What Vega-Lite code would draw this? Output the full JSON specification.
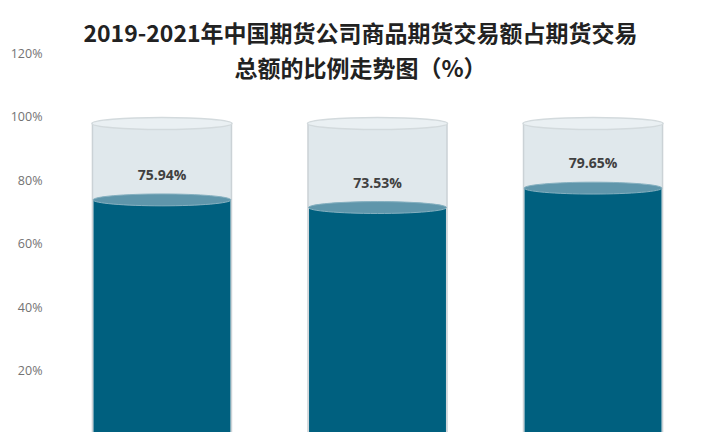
{
  "$schema": "https://vega.github.io/schema/vega-lite/v6.json",
  "autosize": "none",
  "width": 655,
  "height": 379,
  "padding": {"left": 50, "top": 53, "right": 15, "bottom": 0},
  "background": "#ffffff",
  "config": {"view": {"stroke": null}},
  "title": {
    "text": ["2019-2021年中国期货公司商品期货交易额占期货交易", "总额的比例走势图（%）"],
    "font": "Noto Sans CJK SC",
    "fontWeight": "bold",
    "fontSize": 23,
    "color": "#222222",
    "lineHeight": 35,
    "anchor": "middle",
    "dx": -17,
    "dy": 39
  },
  "data": {
    "values": [
      {"year": "2019", "ratio": 75.94, "label": "75.94%", "full": 100},
      {"year": "2020", "ratio": 73.53, "label": "73.53%", "full": 100},
      {"year": "2021", "ratio": 79.65, "label": "79.65%", "full": 100}
    ]
  },
  "encoding": {
    "x": {
      "field": "year",
      "type": "nominal",
      "axis": null,
      "scale": {"paddingInner": 0.355, "paddingOuter": 0.197}
    }
  },
  "layer": [
    {
      "mark": {"type": "bar", "fill": "#e0e8ec", "stroke": "#cbd2d6", "strokeWidth": 1.5, "yOffset": 7, "clip": true},
      "encoding": {
        "y": {
          "field": "full",
          "type": "quantitative",
          "scale": {"domain": [0.63, 120], "nice": false, "zero": false},
          "axis": {
            "values": [20, 40, 60, 80, 100, 120],
            "labelExpr": "datum.value + '%'",
            "domain": false,
            "ticks": false,
            "grid": false,
            "title": null,
            "labelFont": "Open Sans",
            "labelFontSize": 12.5,
            "labelColor": "#737373",
            "labelPadding": 8
          }
        },
        "y2": {"datum": 0}
      }
    },
    {
      "mark": {
        "type": "point",
        "shape": "M-1,0 A1,0.086,0,1,1,1,0 A1,0.086,0,1,1,-1,0 Z",
        "size": 19600,
        "filled": true,
        "fill": "#eaf0f3",
        "stroke": "#d3dadd",
        "strokeWidth": 1.5,
        "opacity": 1,
        "yOffset": 7
      },
      "encoding": {"y": {"field": "full", "type": "quantitative"}}
    },
    {
      "mark": {"type": "bar", "fill": "#00607f", "width": {"band": 0.985}, "yOffset": 7, "clip": true},
      "encoding": {
        "y": {"field": "ratio", "type": "quantitative"},
        "y2": {"datum": 0}
      }
    },
    {
      "mark": {
        "type": "point",
        "shape": "M-1,0 A1,0.086,0,1,1,1,0 A1,0.086,0,1,1,-1,0 Z",
        "size": 19000,
        "filled": true,
        "fill": "#5f96ab",
        "stroke": "#85b0c0",
        "strokeWidth": 1,
        "opacity": 1,
        "yOffset": 7
      },
      "encoding": {"y": {"field": "ratio", "type": "quantitative"}}
    },
    {
      "mark": {
        "type": "text",
        "dy": -17,
        "font": "Open Sans",
        "fontWeight": "bold",
        "fontSize": 14,
        "color": "#404040",
        "baseline": "middle"
      },
      "encoding": {
        "y": {"field": "ratio", "type": "quantitative"},
        "text": {"field": "label", "type": "nominal"}
      }
    }
  ]
}
